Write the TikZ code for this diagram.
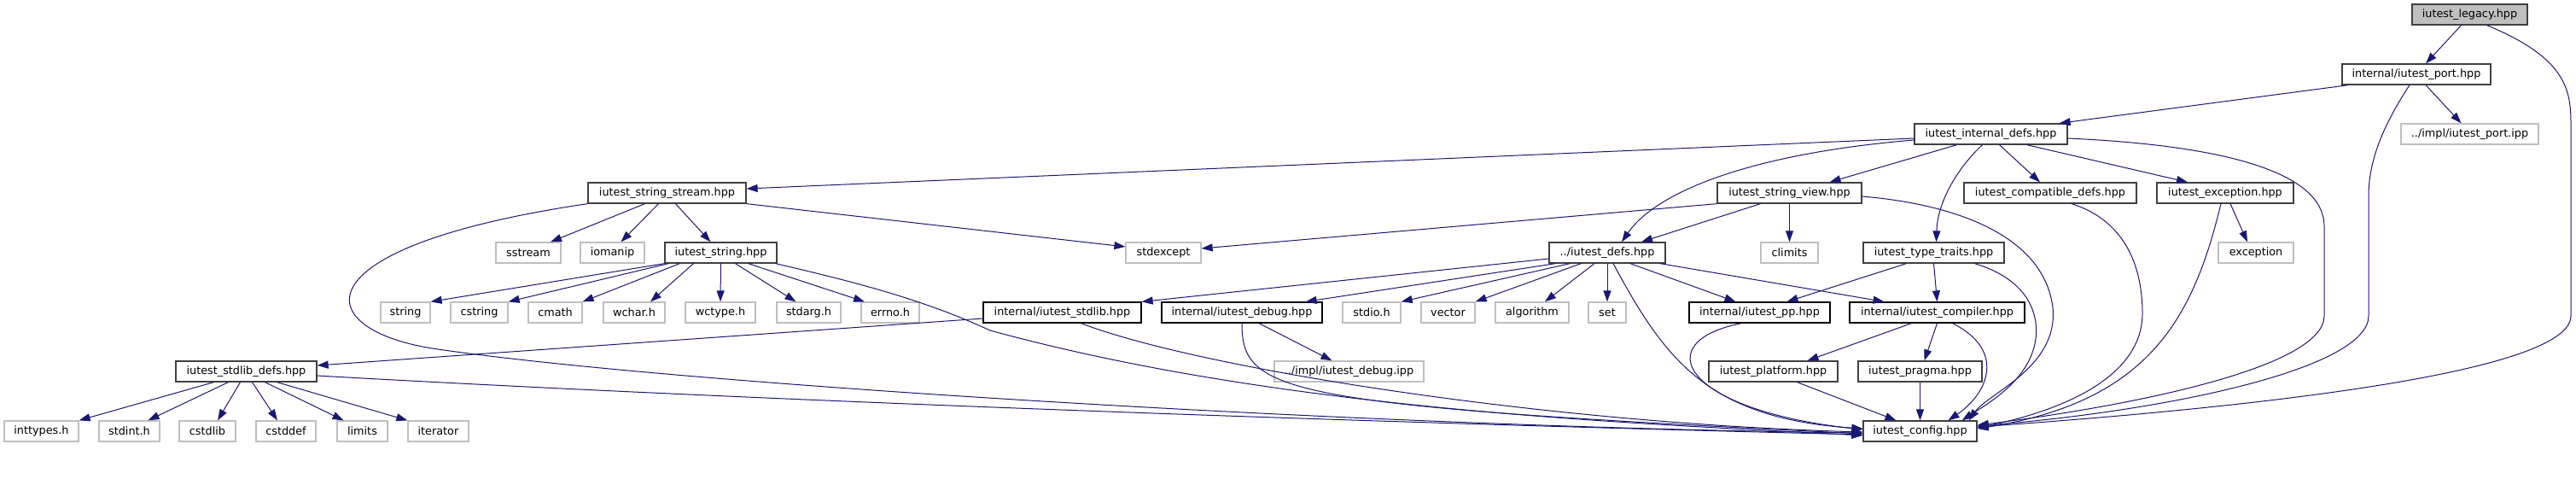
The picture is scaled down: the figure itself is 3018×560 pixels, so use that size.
\documentclass[tikz,border=0pt]{standalone}
\usepackage{fontspec}
\setmainfont{DejaVu Sans}
\usetikzlibrary{arrows.meta}
\definecolor{edgeblue}{HTML}{191970}
\definecolor{nodegrey}{HTML}{404040}
\definecolor{extgrey}{HTML}{BFBFBF}

\begin{document}
\begin{tikzpicture}[x=1pt, y=-1pt,
    hdr/.style={draw=nodegrey, line width=1.25pt, fill=white, inner sep=0pt,
                minimum height=24pt, font=\fontsize{12.8}{14}\selectfont},
    hdrdark/.style={hdr, draw=black},
    ext/.style={hdr, draw=extgrey},
    root/.style={hdr, fill=extgrey},
    dep/.style={edgeblue, line width=1pt, -{Triangle[length=13pt,width=9pt]}}
  ]
    \useasboundingbox (0,0) rectangle (3018,560);

    \node[root, minimum width=135pt] (legacy) at (2893.5,17) {iutest\_legacy.hpp};
    \node[hdr, minimum width=174pt] (port) at (2831,87) {internal/iutest\_port.hpp};
    \node[hdr, minimum width=179pt] (idefs) at (2332.5,157) {iutest\_internal\_defs.hpp};
    \node[ext, minimum width=161pt] (portipp) at (2893.5,157) {../impl/iutest\_port.ipp};

    \node[hdr, minimum width=185pt] (sstreamh) at (781.5,226) {iutest\_string\_stream.hpp};
    \node[hdr, minimum width=169pt] (sview) at (2096.5,226) {iutest\_string\_view.hpp};
    \node[hdr, minimum width=202pt] (compat) at (2402,226) {iutest\_compatible\_defs.hpp};
    \node[hdr, minimum width=160pt] (exch) at (2607,226) {iutest\_exception.hpp};

    \node[ext, minimum width=76pt] (sstream) at (619,296) {sstream};
    \node[ext, minimum width=75pt] (iomanip) at (717.5,296) {iomanip};
    \node[hdr, minimum width=131pt] (istring) at (844.5,296) {iutest\_string.hpp};
    \node[ext, minimum width=88pt] (stdexcept) at (1363,296) {stdexcept};
    \node[hdr, minimum width=136pt] (defs) at (1883,296) {../iutest\_defs.hpp};
    \node[ext, minimum width=67pt] (climits) at (2096.5,296) {climits};
    \node[hdr, minimum width=165pt] (traits) at (2265.5,296) {iutest\_type\_traits.hpp};
    \node[ext, minimum width=88pt] (exception) at (2643,296) {exception};

    \node[ext, minimum width=58pt] (string) at (475,366) {string};
    \node[ext, minimum width=67pt] (cstring) at (561.5,366) {cstring};
    \node[ext, minimum width=63pt] (cmath) at (650.5,366) {cmath};
    \node[ext, minimum width=72pt] (wchar) at (743,366) {wchar.h};
    \node[ext, minimum width=82pt] (wctype) at (844,366) {wctype.h};
    \node[ext, minimum width=75pt] (stdarg) at (947.5,366) {stdarg.h};
    \node[ext, minimum width=68pt] (errno) at (1043,366) {errno.h};
    \node[hdrdark, minimum width=185pt] (istdlib) at (1244.5,366) {internal/iutest\_stdlib.hpp};
    \node[hdrdark, minimum width=188pt] (idebug) at (1455,366) {internal/iutest\_debug.hpp};
    \node[ext, minimum width=68pt] (stdio) at (1607,366) {stdio.h};
    \node[ext, minimum width=63pt] (vector) at (1696.5,366) {vector};
    \node[ext, minimum width=86pt] (algorithm) at (1795,366) {algorithm};
    \node[ext, minimum width=44pt] (set) at (1883,366) {set};
    \node[hdrdark, minimum width=165pt] (ipp) at (2061.5,366) {internal/iutest\_pp.hpp};
    \node[hdrdark, minimum width=205pt] (icompiler) at (2269.5,366) {internal/iutest\_compiler.hpp};

    \node[hdr, minimum width=165pt] (stdlibdefs) at (288.5,435) {iutest\_stdlib\_defs.hpp};
    \node[ext, minimum width=175pt] (debugipp) at (1580.5,435) {../impl/iutest\_debug.ipp};
    \node[hdr, minimum width=151pt] (platform) at (2077.5,435) {iutest\_platform.hpp};
    \node[hdr, minimum width=145pt] (pragma) at (2249.5,435) {iutest\_pragma.hpp};

    \node[ext, minimum width=87pt] (inttypes) at (48.5,505) {inttypes.h};
    \node[ext, minimum width=71pt] (stdint) at (151.5,505) {stdint.h};
    \node[ext, minimum width=66pt] (cstdlib) at (243,505) {cstdlib};
    \node[ext, minimum width=70pt] (cstddef) at (335,505) {cstddef};
    \node[ext, minimum width=59pt] (limits) at (424.5,505) {limits};
    \node[ext, minimum width=71pt] (iterator) at (513.5,505) {iterator};
    \node[hdr, minimum width=133pt] (config) at (2249.5,505) {iutest\_config.hpp};

    % legacy and port
    \draw[dep] ([xshift=-10pt]legacy.south) -- ([xshift=11pt]port.north);
    \draw[dep] ([xshift=20pt]legacy.south) .. controls (3012,70) and (3012,110) .. (3012,150)
      -- (3012,370) .. controls (3012,440) and (2600,480) .. ([yshift=5pt]config.east);
    \draw[dep] ([xshift=8pt]port.south west) -- ([xshift=-10pt]idefs.north east);
    \draw[dep] ([xshift=-8pt]port.south) .. controls (2790,150) and (2775,190) .. (2775,230)
      -- (2775,370) .. controls (2775,430) and (2550,480) .. ([yshift=6pt]config.east);
    \draw[dep] ([xshift=11pt]port.south) -- ([xshift=-10pt]portipp.north);

    % internal defs
    \draw[dep] ([yshift=-5pt]idefs.west) -- ([yshift=5pt]sstreamh.east);
    \draw[dep] ([yshift=-7pt]idefs.west) .. controls (2050,180) and (1940,225) .. ([xshift=17pt]defs.north);
    \draw[dep] ([xshift=-40pt]idefs.south) -- ([xshift=47pt]sview.north);
    \draw[dep] ([xshift=-10pt]idefs.south) .. controls (2295,195) and (2270,235) .. ([xshift=3pt]traits.north);
    \draw[dep] ([xshift=10pt]idefs.south) -- ([xshift=-12pt]compat.north);
    \draw[dep] ([xshift=42pt]idefs.south) -- ([xshift=-44pt]exch.north);
    \draw[dep] ([yshift=-5pt]idefs.east) .. controls (2600,170) and (2723,200) .. (2723,265)
      -- (2723,370) .. controls (2723,430) and (2500,475) .. ([yshift=7pt]config.east);

    % string stream and string
    \draw[dep] ([xshift=-26pt]sstreamh.south) -- ([xshift=26pt]sstream.north);
    \draw[dep] ([xshift=-10pt]sstreamh.south) -- ([xshift=10pt]iomanip.north);
    \draw[dep] ([xshift=10pt]sstreamh.south) -- ([xshift=-12pt]istring.north);
    \draw[dep] (sstreamh.south east) -- ([yshift=7pt]stdexcept.west);
    \draw[dep] (sstreamh.south west) .. controls (340,290) and (360,390) .. (520,410)
      .. controls (800,450) and (1600,500) .. ([yshift=-2pt]config.west);
    \draw[dep] (istring.south west) -- (string.north east);
    \draw[dep] ([xshift=5pt]istring.south west) -- (cstring.north east);
    \draw[dep] ([xshift=18pt]istring.south west) -- (cmath.north east);
    \draw[dep] ([xshift=-32pt]istring.south) -- ([xshift=19pt]wchar.north);
    \draw[dep] (istring.south) -- (wctype.north);
    \draw[dep] ([xshift=17pt]istring.south) -- ([xshift=-15pt]stdarg.north);
    \draw[dep] ([xshift=32pt]istring.south) -- ([xshift=-30pt]errno.north);
    \draw[dep] ([xshift=-2pt]istring.south east) .. controls (1000,330) and (1080,350) .. (1160,387)
      .. controls (1500,480) and (1900,495) .. ([yshift=-5pt]config.west);

    % string view, compatible defs, exception
    \draw[dep] (sview.south west) -- ([yshift=5pt]stdexcept.east);
    \draw[dep] ([xshift=-34pt]sview.south) -- ([xshift=40pt]defs.north);
    \draw[dep] (sview.south) -- (climits.north);
    \draw[dep] ([yshift=-4pt]sview.east) .. controls (2300,240) and (2395,280) .. (2405,360)
      .. controls (2412,430) and (2330,460) .. ([xshift=-10pt]config.north east);
    \draw[dep] ([xshift=25pt]compat.south) .. controls (2495,260) and (2510,320) .. (2510,367)
      .. controls (2510,440) and (2420,480) .. ([yshift=4pt]config.east);
    \draw[dep] ([xshift=6pt]exch.south) -- ([xshift=-10pt]exception.north);
    \draw[dep] ([xshift=-5pt]exch.south) .. controls (2570,370) and (2520,470) .. ([yshift=3pt]config.east);

    % iutest defs
    \draw[dep] ([yshift=-7pt]defs.west) -- (istdlib.north east);
    \draw[dep] ([xshift=8pt]defs.south west) -- ([xshift=-20pt]idebug.north east);
    \draw[dep] ([xshift=25pt]defs.south west) -- (stdio.north east);
    \draw[dep] ([xshift=38pt]defs.south west) -- (vector.north east);
    \draw[dep] ([xshift=-15pt]defs.south) -- ([xshift=15pt]algorithm.north);
    \draw[dep] (defs.south) -- (set.north);
    \draw[dep] ([xshift=7pt]defs.south) .. controls (1950,420) and (2000,490) .. ([yshift=3pt]config.west);
    \draw[dep] ([xshift=27pt]defs.south) -- ([xshift=-28pt]ipp.north);
    \draw[dep] ([xshift=62pt]defs.south) -- ([xshift=-62pt]icompiler.north);

    % stdlib and debug
    \draw[dep] ([yshift=-7pt]istdlib.west) -- ([yshift=7pt]stdlibdefs.east);
    \draw[dep] ([xshift=22pt]istdlib.south) .. controls (1400,430) and (1800,495) .. ([yshift=-1pt]config.west);
    \draw[dep] ([xshift=20pt]idebug.south) -- ([xshift=-20pt]debugipp.north);
    \draw[dep] (idebug.south) .. controls (1455,460) and (1500,475) .. ([yshift=-3pt]config.west);
    \draw[dep] ([xshift=-38pt]stdlibdefs.south) -- (inttypes.north east);
    \draw[dep] ([xshift=-21pt]stdlibdefs.south) -- ([xshift=22pt]stdint.north);
    \draw[dep] ([xshift=-7pt]stdlibdefs.south) -- ([xshift=12pt]cstdlib.north);
    \draw[dep] ([xshift=7pt]stdlibdefs.south) -- ([xshift=-10pt]cstddef.north);
    \draw[dep] ([xshift=22pt]stdlibdefs.south) -- ([xshift=-22pt]limits.north);
    \draw[dep] ([xshift=36pt]stdlibdefs.south) -- (iterator.north west);
    \draw[dep] ([yshift=-5pt]stdlibdefs.east) .. controls (900,470) and (1600,495) .. ([yshift=-4pt]config.west);

    % type traits, pp, compiler
    \draw[dep] ([xshift=-32pt]traits.south) -- ([xshift=32pt]ipp.north);
    \draw[dep] (traits.south) -- (icompiler.north);
    \draw[dep] ([xshift=48pt]traits.south) .. controls (2385,330) and (2392,380) .. (2382,410)
      .. controls (2370,450) and (2325,475) .. ([xshift=-18pt]config.north east);
    \draw[dep] ([xshift=-21pt]ipp.south) .. controls (1930,400) and (1970,480) .. ([yshift=2pt]config.west);
    \draw[dep] ([xshift=-30pt]icompiler.south) -- ([xshift=40pt]platform.north);
    \draw[dep] (icompiler.south) -- ([xshift=5pt]pragma.north);
    \draw[dep] ([xshift=18pt]icompiler.south) .. controls (2350,410) and (2330,460) .. ([xshift=33pt]config.north);
    \draw[dep] ([xshift=28pt]platform.south) -- ([xshift=-28pt]config.north);
    \draw[dep] (pragma.south) -- (config.north);
\end{tikzpicture}
\end{document}
